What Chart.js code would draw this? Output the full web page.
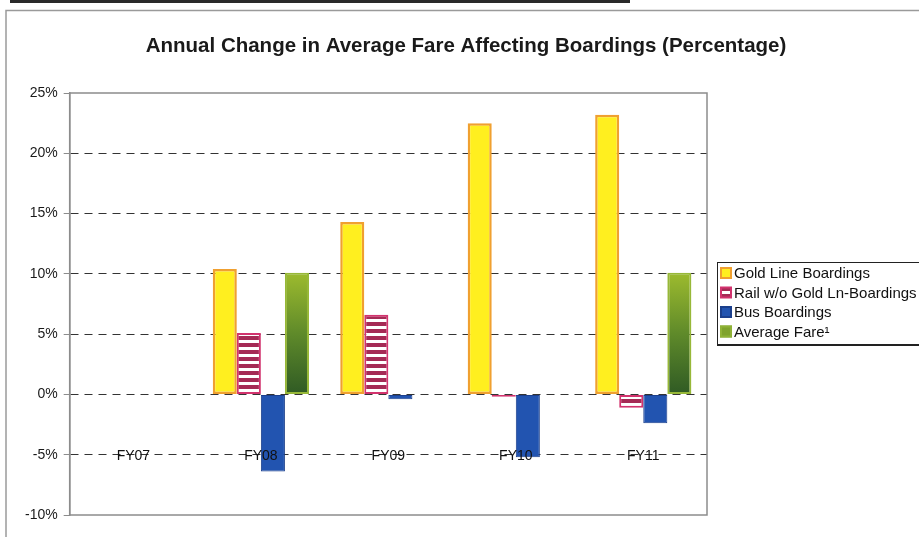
<!DOCTYPE html>
<html>
<head>
<meta charset="utf-8">
<script src="https://cdn.jsdelivr.net/npm/chart.js@4.4.0/dist/chart.umd.min.js"></script>
<style>
  html, body { margin: 0; padding: 0; background: #fff; }
  #wrap { width: 919px; height: 537px; }
</style>
</head>
<body>
<div id="wrap"><canvas id="c"></canvas></div>
<script>
// data
const categories = ['FY07', 'FY08', 'FY09', 'FY10', 'FY11'];
const goldLine = [null, 10.4, 14.3, 22.5, 23.2];
const railNoGold = [null, 5.1, 6.6, -0.2, -1.1];
const busBoardings = [null, -6.4, -0.4, -5.2, -2.4];
const averageFare = [null, 10.1, null, null, 10.1];
const yTicks = [-10, -5, 0, 5, 10, 15, 20, 25];
const seriesNames = ['Gold Line Boardings', 'Rail w/o Gold Ln-Boardings', 'Bus Boardings', 'Average Fare\u00b9'];
const titleText = 'Annual Change in Average Fare Affecting Boardings (Percentage)';

const FONT = '"Liberation Sans", Arial, sans-serif';
Chart.defaults.font.family = FONT;
Chart.defaults.color = '#1a1a1a';

// striped fill for the rail series
const tile = document.createElement('canvas');
tile.width = 4; tile.height = 7;
const tc = tile.getContext('2d');
tc.fillStyle = '#a52a55'; tc.fillRect(0, 0, 4, 7);
tc.fillStyle = '#ffffff'; tc.fillRect(0, 4, 4, 3);
const railPattern = tc.createPattern(tile, 'repeat');

// green gradient per bar
function fareFill(ctx) {
  const chart = ctx.chart;
  const y = chart.scales.y;
  if (!y || ctx.parsed == null || ctx.parsed.y == null) return '#7fa32c';
  const top = y.getPixelForValue(ctx.parsed.y);
  const base = y.getPixelForValue(0);
  const g = chart.ctx.createLinearGradient(0, top, 0, base);
  g.addColorStop(0, '#9dbb2e');
  g.addColorStop(0.5, '#5f8a2a');
  g.addColorStop(1, '#2f5a24');
  return g;
}

const swatches = [
  { fill: '#ffef1f', stroke: '#f0a030' },
  { fill: railPattern, stroke: '#d2336e' },
  { fill: '#2254b0', stroke: '#1b3f8c' },
  { fill: '#7fa32c', stroke: '#8fb236' }
];

const framePlugin = {
  id: 'frame',
  beforeDraw(chart) {
    const { ctx, width, height } = chart;
    ctx.save();
    ctx.fillStyle = '#fff';
    ctx.fillRect(0, 0, width, height);
    ctx.fillStyle = '#2a2a2a';
    ctx.fillRect(10, 0, 620, 3);
    ctx.strokeStyle = '#9a9a9a';
    ctx.lineWidth = 1.5;
    ctx.beginPath();
    ctx.moveTo(6, height);
    ctx.lineTo(6, 10.5);
    ctx.lineTo(width, 10.5);
    ctx.stroke();
    ctx.font = 'bold 20.5px ' + FONT;
    ctx.fillStyle = '#1a1a1a';
    ctx.textAlign = 'center';
    ctx.textBaseline = 'alphabetic';
    ctx.fillText(titleText, 466, 52);
    ctx.restore();
  },
  beforeDatasetsDraw(chart) {
    const { ctx, chartArea: a } = chart;
    ctx.save();
    ctx.strokeStyle = '#8c8c8c';
    ctx.lineWidth = 1.5;
    ctx.strokeRect(a.left, a.top, a.right - a.left, a.bottom - a.top);
    ctx.restore();
  },
  afterDatasetsDraw(chart) {
    const { ctx, scales } = chart;
    ctx.save();
    // category labels sit on the -5% line
    ctx.font = '14px ' + FONT;
    ctx.fillStyle = '#111';
    ctx.textAlign = 'center';
    ctx.textBaseline = 'middle';
    const ly = scales.y.getPixelForValue(-5);
    categories.forEach((c, i) => ctx.fillText(c, scales.x.getPixelForValue(i), ly + 1));

    // legend
    const lx = 717, lt = 262;
    ctx.strokeStyle = '#222';
    ctx.lineWidth = 1;
    ctx.strokeRect(lx + 0.5, lt + 0.5, 220, 82);
    ctx.lineWidth = 2;
    ctx.beginPath(); ctx.moveTo(lx, lt + 83); ctx.lineTo(919, lt + 83); ctx.stroke();
    ctx.textAlign = 'left';
    ctx.font = '15px ' + FONT;
    chart.data.datasets.forEach((ds, i) => {
      const cy = 273 + i * 19.5;
      const s = swatches[i];
      ctx.fillStyle = s.fill;
      ctx.fillRect(720, cy - 6, 12, 12);
      ctx.strokeStyle = s.stroke;
      ctx.lineWidth = 2;
      ctx.strokeRect(721, cy - 5, 10, 10);
      ctx.fillStyle = '#111';
      ctx.fillText(ds.label, 734, cy + 1);
    });
    ctx.restore();
  }
};

new Chart(document.getElementById('c'), {
  type: 'bar',
  data: {
    labels: categories,
    datasets: [
      { label: seriesNames[0], data: goldLine, backgroundColor: '#ffef1f', borderColor: '#f0a030', borderWidth: 2.5 },
      { label: seriesNames[1], data: railNoGold, backgroundColor: railPattern, borderColor: '#d2336e', borderWidth: 2 },
      { label: seriesNames[2], data: busBoardings, backgroundColor: '#2254b0', borderColor: '#1b3f8c', borderWidth: 1 },
      { label: seriesNames[3], data: averageFare, backgroundColor: fareFill, borderColor: '#97b838', borderWidth: 2 }
    ]
  },
  options: {
    responsive: true,
    maintainAspectRatio: false,
    animation: false,
    events: [],
    layout: { padding: { left: 19, right: 212, top: 93, bottom: 22 } },
    datasets: { bar: { categoryPercentage: 0.755, barPercentage: 1, borderSkipped: false } },
    plugins: { legend: { display: false }, title: { display: false }, tooltip: { enabled: false } },
    scales: {
      x: { display: false },
      y: {
        min: -10,
        max: 25,
        afterBuildTicks: s => { s.ticks = yTicks.map(v => ({ value: v })); },
        ticks: { callback: v => v + '%', font: { size: 14 }, color: '#1a1a1a', padding: 6 },
        grid: {
          color: c => (c.tick && (c.tick.value === -10 || c.tick.value === 25)) ? 'rgba(0,0,0,0)' : '#333',
          lineWidth: 1,
          tickLength: 6,
          tickColor: '#8c8c8c'
        },
        border: { display: true, color: '#8c8c8c', width: 1.5, dash: [8, 6] }
      }
    }
  },
  plugins: [framePlugin]
});
</script>
</body>
</html>
